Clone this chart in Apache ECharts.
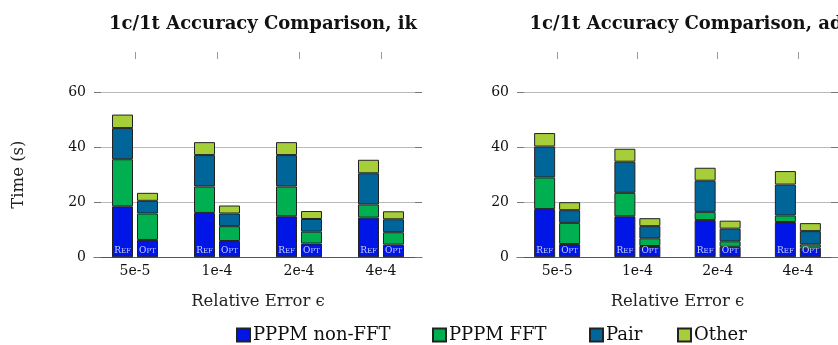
<!DOCTYPE html>
<html><head><meta charset="utf-8">
<script src="https://cdn.jsdelivr.net/npm/echarts@6/dist/echarts.min.js"></script>
<style>html,body{margin:0;padding:0;background:#fff}#c{width:838px;height:345px}</style>
</head><body><div id="c"></div>
<script>
const categories = ['5e-5', '1e-4', '2e-4', '4e-4'];
const yTicks = [0, 20, 40, 60];
const titles = ['1c/1t Accuracy Comparison, ik', '1c/1t Accuracy Comparison, ad'];
const seriesNames = ['PPPM non-FFT', 'PPPM FFT', 'Pair', 'Other'];
const colors = ['#0016e6', '#00b050', '#006699', '#a6ce39'];

// ik panel
const ikRefNonFFT = [18.5, 16.1, 14.9, 14.4];
const ikRefFFT    = [17.1, 9.6, 10.8, 4.8];
const ikRefPair   = [11.3, 11.4, 11.4, 11.3];
const ikRefOther  = [4.9, 4.7, 4.7, 4.9];
const ikOptNonFFT = [6.3, 5.9, 5.0, 4.6];
const ikOptFFT    = [9.6, 5.4, 4.3, 4.5];
const ikOptPair   = [4.6, 4.6, 4.6, 4.7];
const ikOptOther  = [2.9, 2.9, 2.9, 2.9];
// ad panel
const adRefNonFFT = [17.5, 14.9, 13.5, 12.8];
const adRefFFT    = [11.5, 8.5, 3.0, 2.4];
const adRefPair   = [11.2, 11.3, 11.3, 11.2];
const adRefOther  = [4.9, 4.7, 4.7, 4.9];
const adOptNonFFT = [4.8, 4.1, 3.8, 3.5];
const adOptFFT    = [7.7, 2.8, 2.0, 1.2];
const adOptPair   = [4.6, 4.4, 4.6, 4.8];
const adOptOther  = [2.9, 2.9, 2.9, 2.9];

const panels = [
  {ref: [ikRefNonFFT, ikRefFFT, ikRefPair, ikRefOther], opt: [ikOptNonFFT, ikOptFFT, ikOptPair, ikOptOther]},
  {ref: [adRefNonFFT, adRefFFT, adRefPair, adRefOther], opt: [adOptNonFFT, adOptFFT, adOptPair, adOptOther]}
];

const FONT = 'DejaVu Serif';
const gridLefts = [94, 517];
const W = 328;
const legendLefts = [231, 427, 584, 672];
const chart = echarts.init(document.getElementById('c'), null, {renderer: 'canvas'});

const grids = [], xAxes = [], yAxes = [], series = [], titleOpts = [];
gridLefts.forEach((gl, p) => {
  grids.push({left: gl, width: W, top: 92, height: 165.3, containLabel: false});
  titleOpts.push({
    text: titles[p], left: gl + W / 2, top: 10, textAlign: 'center',
    textStyle: {fontFamily: FONT, fontWeight: 'bold', fontSize: 18, color: '#111'}
  });
  xAxes.push({
    type: 'category', gridIndex: p, data: categories, position: 'bottom',
    axisLine: {onZero: false, lineStyle: {color: '#555', width: 1}},
    axisTick: {show: false},
    axisLabel: {fontFamily: FONT, fontSize: 14, color: '#111', margin: 7},
    name: 'Relative Error ϵ', nameLocation: 'middle', nameGap: 36,
    nameTextStyle: {fontFamily: FONT, fontSize: 16.5, color: '#222'}
  });
  xAxes.push({
    type: 'category', gridIndex: p, data: categories, position: 'top', offset: 33,
    axisLine: {show: true, onZero: false, lineStyle: {color: 'rgba(0,0,0,0)'}},
    axisTick: {show: true, alignWithLabel: true, interval: 0, length: 7, lineStyle: {color: '#999', width: 1}},
    axisLabel: {show: false}
  });
  yAxes.push({
    type: 'value', gridIndex: p, min: 0, max: 60, interval: 20,
    axisLine: {show: false},
    axisTick: {show: true, inside: true, length: 7, lineStyle: {color: '#777'}},
    splitLine: {show: true, lineStyle: {color: '#bbb', width: 1}},
    axisLabel: {fontFamily: FONT, fontSize: 14, color: '#111', margin: 8,
      formatter: v => yTicks.includes(v) ? String(v) : ''},
    name: p === 0 ? 'Time (s)' : '', nameLocation: 'middle', nameGap: 67,
    nameTextStyle: {fontFamily: FONT, fontSize: 16.5, color: '#222'}
  });
  yAxes.push({
    type: 'value', gridIndex: p, min: 0, max: 60, interval: 20, position: 'right',
    axisLine: {show: false},
    axisTick: {show: true, inside: true, length: 7, lineStyle: {color: '#777'}},
    splitLine: {show: false}, axisLabel: {show: false}
  });
  ['ref', 'opt'].forEach((kind) => {
    panels[p][kind].forEach((vals, si) => {
      const s = {
        type: 'bar', name: seriesNames[si], stack: 'p' + p + kind,
        xAxisIndex: p * 2, yAxisIndex: p * 2, data: vals,
        barWidth: 21, barGap: '19%',
        itemStyle: {color: colors[si], borderColor: '#222', borderWidth: 1},
        emphasis: {disabled: true}
      };
      if (si === 0) {
        s.label = {
          show: true, position: 'insideBottom', distance: 2,
          formatter: kind === 'ref' ? '{a|R}{b|EF}' : '{a|O}{b|PT}',
          rich: {
            a: {fontFamily: FONT, fontSize: 9, color: '#c8cfff'},
            b: {fontFamily: FONT, fontSize: 7, color: '#c8cfff'}
          }
        };
      }
      series.push(s);
    });
  });
});

const legends = seriesNames.map((n, i) => ({
  data: [n], left: legendLefts[i], top: 321, itemWidth: 13, itemHeight: 13,
  icon: 'rect', selectedMode: false,
  textStyle: {fontFamily: FONT, fontSize: 18, color: '#111', padding: [0, 0, 0, -2]}
}));

chart.setOption({
  animation: false,
  title: titleOpts,
  grid: grids,
  xAxis: xAxes,
  yAxis: yAxes,
  legend: legends,
  series: series
});
</script></body></html>
